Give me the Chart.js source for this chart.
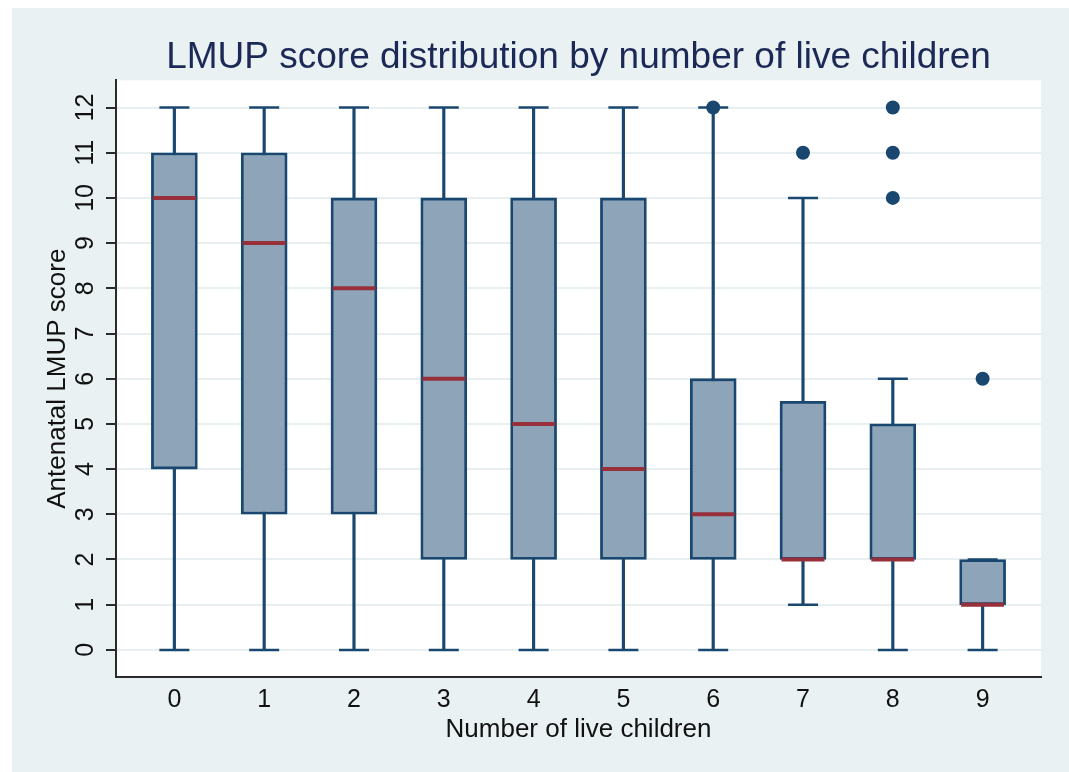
<!DOCTYPE html>
<html>
<head>
<meta charset="utf-8">
<script src="https://cdn.jsdelivr.net/npm/chart.js@4.4.1/dist/chart.umd.min.js"></script>
<style>
  html, body { margin: 0; padding: 0; background: #ffffff; }
  #wrap { position: absolute; left: 12px; top: 8px; width: 1057px; height: 764px; background: #e9f1f3; }
  canvas { display: block; }
</style>
</head>
<body>
<div id="wrap"><canvas id="c" width="1057" height="764"></canvas></div>
<script>
// ---- data ----
const categories = [0, 1, 2, 3, 4, 5, 6, 7, 8, 9];
const minVals    = [0, 0, 0, 0, 0, 0, 0, 1, 0, 0];
const q1Vals     = [4, 3, 3, 2, 2, 2, 2, 2, 2, 1];
const medVals    = [10, 9, 8, 6, 5, 4, 3, 2, 2, 1];
const q3Vals     = [11, 11, 10, 10, 10, 10, 6, 5.5, 5, 2];
const maxVals    = [12, 12, 12, 12, 12, 12, 12, 10, 6, 2];
const outlierCats = [6, 7, 8, 8, 8, 9];
const outlierVals = [12, 11, 10, 11, 12, 6];
const yTicks = [0, 1, 2, 3, 4, 5, 6, 7, 8, 9, 10, 11, 12];
const xTickLabels = ['0', '1', '2', '3', '4', '5', '6', '7', '8', '9'];

const titleText = 'LMUP score distribution by number of live children';
const xTitle = 'Number of live children';
const yTitle = 'Antenatal LMUP score';

const FONT = "'Liberation Sans', Arial, Helvetica, sans-serif";
const NAVY = '#1a476f';
const BOXFILL = '#8ea4b9';
const MEDIAN = '#97303a';
const AXIS = '#2b2b2b';

const yTickLabelPlugin = {
  id: 'yTickLabels',
  afterDraw(chart) {
    const s = chart.scales.y;
    const ctx = chart.ctx;
    ctx.save();
    ctx.fillStyle = '#111111';
    ctx.font = '25px ' + FONT;
    ctx.textAlign = 'center';
    ctx.textBaseline = 'alphabetic';
    yTicks.forEach(v => {
      const py = s.getPixelForValue(v);
      ctx.save();
      ctx.translate(81, py);
      ctx.rotate(-Math.PI / 2);
      ctx.fillText(String(v), 0, 0);
      ctx.restore();
    });
    ctx.restore();
  }
};

new Chart(document.getElementById('c'), {
  type: 'scatter',
  data: {
    datasets: [
      {
        type: 'bar', label: 'whiskers', order: 5,
        data: categories.map((c, i) => ({ x: c, y: [minVals[i], maxVals[i]] })),
        backgroundColor: NAVY, borderWidth: 0,
        barThickness: 2.5, grouped: false
      },
      {
        type: 'bar', label: 'boxes', order: 4,
        data: categories.map((c, i) => ({ x: c, y: [q1Vals[i], q3Vals[i]] })),
        backgroundColor: BOXFILL, borderColor: NAVY, borderWidth: 2.8,
        borderSkipped: false, barThickness: 46, grouped: false
      },
      {
        type: 'scatter', label: 'upper caps', order: 3,
        data: categories.map((c, i) => ({ x: c, y: maxVals[i] })),
        pointStyle: 'line', pointRadius: 15, pointBorderWidth: 2.5,
        pointBorderColor: NAVY, pointBackgroundColor: NAVY
      },
      {
        type: 'scatter', label: 'lower caps', order: 3,
        data: categories.map((c, i) => ({ x: c, y: minVals[i] })),
        pointStyle: 'line', pointRadius: 15, pointBorderWidth: 2.5,
        pointBorderColor: NAVY, pointBackgroundColor: NAVY
      },
      {
        type: 'scatter', label: 'medians', order: 2,
        data: categories.map((c, i) => ({ x: c, y: medVals[i] })),
        pointStyle: 'line', pointRadius: 21.5, pointBorderWidth: 4,
        pointBorderColor: MEDIAN, pointBackgroundColor: MEDIAN
      },
      {
        type: 'scatter', label: 'outliers', order: 1,
        data: outlierCats.map((c, i) => ({ x: c, y: outlierVals[i] })),
        pointStyle: 'circle', pointRadius: 7, pointBorderWidth: 0,
        pointBackgroundColor: NAVY, pointBorderColor: NAVY
      }
    ]
  },
  options: {
    responsive: false,
    animation: false,
    events: [],
    layout: { padding: { left: 0, right: 28, top: 0, bottom: 0 } },
    plugins: {
      legend: { display: false },
      tooltip: { enabled: false },
      title: {
        display: true, text: titleText, fullSize: false,
        color: '#1c2957',
        font: { family: FONT, size: 37, weight: 'normal' },
        padding: { top: 28, bottom: 0 }
      }
    },
    scales: {
      x: {
        type: 'linear', min: -0.65, max: 9.65, offset: false,
        afterBuildTicks: s => { s.ticks = categories.map(v => ({ value: v })); },
        afterFit: s => { s.height = 95; },
        grid: { display: true, color: 'rgba(0,0,0,0)', drawTicks: false },
        border: { display: true, color: AXIS, width: 2 },
        ticks: {
          padding: 8, color: '#111111',
          font: { family: FONT, size: 25 },
          callback: (v, i) => xTickLabels[i]
        },
        title: {
          display: true, text: xTitle, color: '#111111',
          font: { family: FONT, size: 26 },
          padding: { top: 0, bottom: 27 }
        }
      },
      y: {
        type: 'linear', min: -0.6, max: 12.6,
        afterBuildTicks: s => { s.ticks = yTicks.map(v => ({ value: v })); },
        afterFit: s => { s.width = 104; },
        grid: {
          display: true, color: '#e7eff1', lineWidth: 2,
          drawTicks: true, tickLength: 10, tickColor: AXIS, tickWidth: 2
        },
        border: { display: true, color: AXIS, width: 2 },
        ticks: { display: true, callback: () => '' },
        title: {
          display: true, text: yTitle, color: '#111111',
          font: { family: FONT, size: 26 },
          padding: { top: 30, bottom: 0 }
        }
      }
    }
  },
  plugins: [yTickLabelPlugin, {
    id: 'plotBg',
    beforeDraw(chart) {
      const a = chart.chartArea, ctx = chart.ctx;
      ctx.save();
      ctx.fillStyle = '#ffffff';
      ctx.fillRect(a.left, a.top, a.right - a.left, a.bottom - a.top);
      ctx.restore();
    }
  }]
});
</script>
</body>
</html>
